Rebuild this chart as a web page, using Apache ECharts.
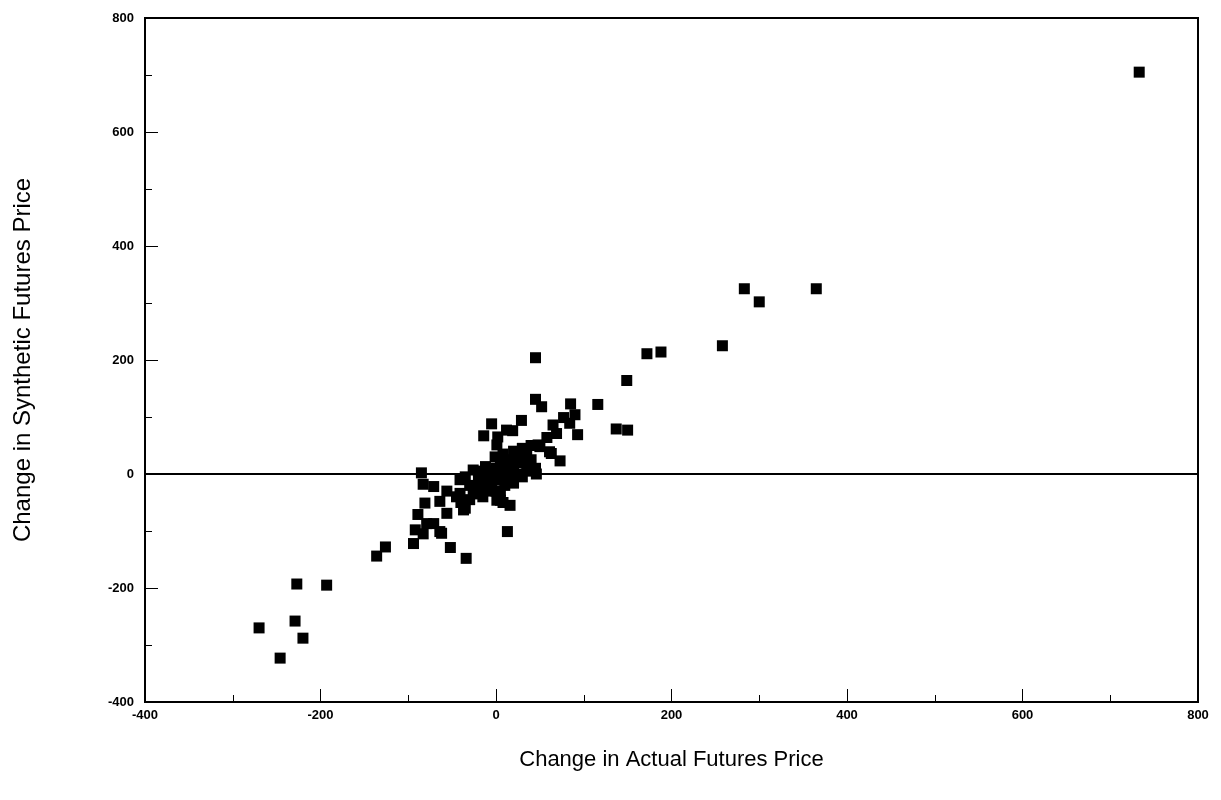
<!DOCTYPE html>
<html>
<head>
<meta charset="utf-8">
<script src="https://cdn.jsdelivr.net/npm/echarts@6/dist/echarts.min.js"></script>
<style>
  html, body { margin: 0; padding: 0; background: #fff; }
  #chart { width: 1221px; height: 800px; }
</style>
</head>
<body>
<div id="chart"></div>
<script>
// Daily changes: actual futures price vs. synthetic futures price
const actualChange = [
  733, 283, 300, 365, 258, 188, 172, 149, 116, 137, 150,
  45, 45, 52, 85, 90, 77, 84, 65, 93, 58, 48, 63, 73, 46,
  29, 19, -5, -14, 2, 69, 61, 50, 13,
  -85, -83, -71, -56, -81, -89, -92, -83, -94, -64, -52, -34, -62,
  -56, -71, -79, -64, -37, -41, -26, -11, 1, 5, 20, -35,
  -126, -136, -227, -193, -229, -270, -220, -246,
  12, 1, -1, -26, -12,
  -45, -40, -30, -30, -25, -20, -20, -15, -10, -10, -5, -5, 0, 0,
  5, 5, 8, 10, 10, 15, 15, 20, 20, 25, 25, 30, 30, 35, 35, 40, 40,
  -20, 0, -35, 15, 5, 10, 8, 30, 40, 45, -41, -15, 16
];
const syntheticChange = [
  705, 325, 302, 325, 225, 214, 211, 164, 122, 79, 77,
  204, 131, 118, 123, 104, 99, 89, 86, 69, 64, 51, 36, 23, 0,
  94, 76, 88, 67, 65, 71, 39, 48, -101,
  2, -18, -22, -30, -51, -71, -98, -105, -122, -101, -129, -148, -104,
  -69, -87, -87, -48, -63, -34, -28, -16, -46, -46, -16, -60,
  -128, -144, -193, -195, -258, -270, -288, -323,
  77, 51, 30, 7, 13,
  -40, -50, -45, -20, -35, -10, -30, -25, -5, -30, 5, -20, 10, -10,
  20, 0, 35, 10, -5, 25, 5, 40, 15, 30, 0, 20, 45, 35, 10, 25, 50,
  5, -30, -5, -10, -30, -20, -50, -5, 5, 10, -10, -40, -55
];
const tickValues = [-400, -200, 0, 200, 400, 600, 800];

const points = actualChange.map((x, i) => [x, syntheticChange[i]]);

const chart = echarts.init(document.getElementById('chart'));

const labelStyle = {
  color: '#000',
  fontFamily: 'Liberation Sans, Arial, sans-serif',
  fontWeight: 'bold',
  fontSize: 13
};

function axisBase(titleSize) {
  return {
    type: 'value',
    min: tickValues[0],
    max: tickValues[tickValues.length - 1],
    interval: 200,
    axisLine: { show: true, onZero: false, lineStyle: { color: '#000', width: 2 } },
    axisTick: { show: true, inside: true, length: 13, lineStyle: { color: '#000', width: 1 } },
    minorTick: { show: true, splitNumber: 2, length: 7, lineStyle: { color: '#000', width: 1 } },
    splitLine: { show: false },
    axisLabel: Object.assign({}, labelStyle),
    nameLocation: 'middle',
    nameTextStyle: {
      color: '#000',
      fontFamily: 'Liberation Sans, Arial, sans-serif',
      fontSize: titleSize
    }
  };
}

chart.setOption({
  animation: false,
  backgroundColor: '#fff',
  grid: {
    left: 145, right: 23, top: 18, bottom: 98,
    show: true, borderColor: '#000', borderWidth: 2, backgroundColor: 'transparent'
  },
  xAxis: Object.assign(axisBase(22), {
    name: 'Change in Actual Futures Price',
    nameGap: 47,
    axisLabel: Object.assign({}, labelStyle, { margin: 7 })
  }),
  yAxis: Object.assign(axisBase(24), {
    name: 'Change in Synthetic Futures Price',
    nameGap: 110,
    axisLabel: Object.assign({}, labelStyle, { margin: 11 })
  }),
  series: [{
    type: 'scatter',
    data: points,
    symbol: 'rect',
    symbolSize: 11,
    itemStyle: { color: '#000', opacity: 1 },
    markLine: {
      silent: true,
      symbol: ['none', 'none'],
      label: { show: false },
      lineStyle: { color: '#000', width: 2, type: 'solid' },
      data: [{ yAxis: 0 }]
    }
  }]
});
</script>
</body>
</html>
